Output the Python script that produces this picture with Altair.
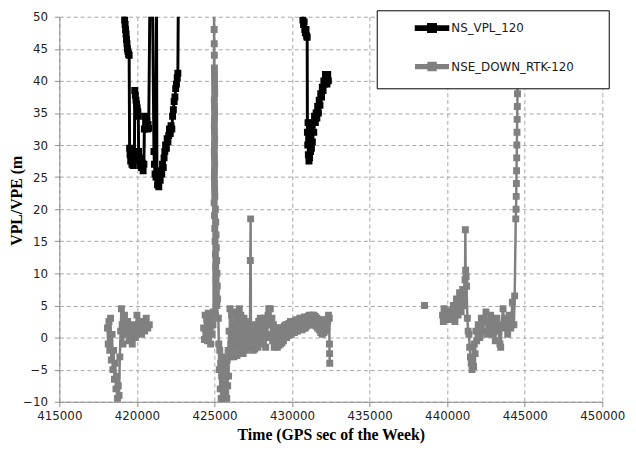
import altair as alt
import pandas as pd

SERIES = ["NS_VPL_120", "NSE_DOWN_RTK-120"]
X_TICKS = [415000, 420000, 425000, 430000, 435000, 440000, 445000, 450000]
Y_TICKS = [-10, -5, 0, 5, 10, 15, 20, 25, 30, 35, 40, 45, 50]

# NS_VPL_120, first pass (time, metres)
vpl_1 = [
    (419150, 53), (419180, 50.5), (419210, 49.5), (419240, 48.8), (419270, 48),
    (419300, 47.3), (419330, 46.5), (419360, 45.8), (419390, 45), (419420, 44.6),
    (419460, 44.2), (419500, 44), (419530, 29.5), (419560, 28.5), (419600, 27.5),
    (419640, 28.8), (419680, 27), (419720, 28), (419760, 26.8), (419800, 27.8),
    (419840, 28.5), (419860, 38.5), (419900, 37.8), (419940, 37), (419980, 36.4),
    (420020, 35.8), (420060, 35.2), (420090, 34.5), (420110, 29), (420150, 27.5),
    (420200, 26.8), (420250, 28), (420300, 26.5), (420350, 27.2), (420400, 26),
    (420450, 27), (420480, 32.5), (420520, 34.5), (420560, 33.5), (420600, 32.8),
    (420640, 33.8), (420680, 32.5), (420720, 33.2), (420760, 32.6), (420846, 55),
    (421000, 55), (421098, 29), (421130, 27), (421170, 25.5), (421230, 25),
    (421262, 55), (421290, 25), (421330, 23.8), (421370, 24.5), (421410, 23.5),
    (421450, 25), (421500, 24.5), (421550, 26), (421600, 25.5), (421650, 27),
    (421700, 26.5), (421750, 28), (421800, 29), (421850, 30), (421900, 29.5),
    (421950, 31), (422000, 30.5), (422050, 31.5), (422100, 32.5), (422150, 31.8),
    (422200, 33), (422250, 32.5), (422300, 34.5), (422350, 35.5), (422400, 36.8),
    (422450, 37.5), (422500, 38.8), (422550, 39.5), (422600, 40.5), (422640, 41.2),
    (422675, 55),
]

# NS_VPL_120, second pass
vpl_2 = [
    (430650, 53), (430700, 49.5), (430740, 48.8), (430780, 49.2), (430820, 48),
    (430860, 47.5), (430900, 48), (430940, 47), (430975, 46.8), (430990, 32),
    (431010, 30), (431030, 33.5), (431050, 28.5), (431070, 31), (431090, 27.5),
    (431110, 30.5), (431130, 28), (431160, 32), (431190, 29), (431220, 31.5),
    (431250, 29.5), (431280, 32.5), (431310, 30.5), (431350, 33.5), (431400, 32),
    (431450, 34.5), (431500, 33.5), (431550, 35), (431600, 34.2), (431650, 36),
    (431700, 35), (431750, 37), (431800, 36.2), (431850, 38), (431900, 37.5),
    (431950, 39), (432000, 38.5), (432050, 40), (432100, 39.5), (432150, 41),
    (432200, 40.5), (432250, 39.5), (432300, 41), (432340, 40),
]

# NSE_DOWN_RTK-120, first pass
nse_1 = [
    (418100, 1.5), (418150, -1), (418200, 2.5), (418250, -2), (418300, 3),
    (418350, -3.5), (418400, 0.5), (418450, -5), (418500, -2), (418550, -6.5),
    (418600, -4), (418650, -8), (418700, -6), (418750, -9.5), (418800, -7.5),
    (418850, -9), (418900, -3), (418950, 1), (419000, 4.5), (419050, 2),
    (419100, -1), (419200, 3.5), (419300, 0.5), (419400, 2.5), (419500, -0.5),
    (419600, 1.5), (419700, -1), (419800, 2), (419900, 0), (420000, 3.5),
    (420100, 1), (420200, 2.5), (420300, 0.5), (420400, 2.5), (420500, 1),
    (420600, 3), (420700, 1.5), (420800, 2),
]

# NSE_DOWN_RTK-120, second pass
nse_2 = [
    (424300, 1.5), (424350, -0.3), (424400, 3.5), (424450, 0.5), (424500, 2.8),
    (424550, -0.5), (424600, 3.8), (424650, 1), (424700, 2.5), (424750, -1),
    (424800, 3), (424850, 0.5), (424900, 2), (424940, 4), (424975, 53),
    (424980, 48), (424985, 45.8), (424990, 44), (424995, 42), (425000, 41),
    (425005, 40), (425010, 39), (425015, 38), (424990, 37), (425000, 36),
    (425010, 35), (425000, 34), (424990, 33), (425000, 32), (425010, 31),
    (425000, 30), (424990, 29), (425000, 28), (425010, 27), (425000, 26),
    (424990, 25), (425000, 24), (425010, 23), (425020, 22), (424980, 21),
    (425060, 20), (425000, 19), (425080, 18), (425020, 17), (425100, 16),
    (425040, 15), (425120, 14), (425060, 13), (425140, 12), (425080, 11),
    (425160, 10), (425100, 9), (425180, 8), (425120, 7), (425200, 6),
    (425150, 5), (425250, 3), (425280, -1), (425310, -5), (425340, -2),
    (425370, -8), (425400, -4), (425430, -9.5), (425460, -6), (425490, -9.8),
    (425520, -3), (425550, -8), (425580, -5), (425610, -9.5), (425640, -7),
    (425670, -9), (425700, -4), (425730, -8.5), (425760, -6), (425790, -9.5),
    (425820, -3.5), (425850, -7.5), (425880, -2), (425910, -6), (425940, 1),
    (425970, -3), (426000, 4.5), (426050, -1), (426100, 3.5), (426150, -2.5),
    (426200, 2), (426250, -3), (426300, 4), (426350, -1.5), (426400, 3),
    (426450, -2.8), (426500, 2.5), (426550, -1), (426600, 4.5), (426650, -2),
    (426700, 3.5), (426750, -1.5), (426800, 2), (426850, -2.5), (426900, 3),
    (426950, -1.5), (427000, 2.5), (427050, -2), (427100, 1.5), (427150, -1.5),
    (427200, 2), (427250, -1), (427290, 1.5), (427310, 12), (427330, 18.5),
    (427350, 2), (427400, -1.5), (427450, 1.5), (427500, -2), (427550, 1),
    (427600, -1.8), (427650, 1.5), (427700, -1), (427750, 2), (427800, -1.5),
    (427850, 2.5), (427900, -0.5), (427950, 3), (428000, 0), (428050, 2.5),
    (428100, -1), (428150, 3), (428200, 0.5), (428250, 2), (428300, -1.5),
    (428350, 2.5), (428400, 0), (428450, 3.5), (428500, 4.5), (428550, 2),
    (428600, 4.5), (428650, 0.5), (428700, 3), (428750, -0.5), (428800, 2),
    (428850, -1.5), (428900, 1.5), (428950, -1), (429000, 1.5), (429050, -1.5),
    (429100, 1), (429150, -1.2), (429200, 1.5), (429250, -1), (429300, 1.2),
    (429350, -0.8), (429400, 1.5), (429450, -0.5), (429500, 1.8), (429550, 0),
    (429600, 2), (429650, 0), (429700, 2), (429750, 0.3), (429800, 2.2),
    (429850, 0.5), (429900, 2.5), (429950, 0.5), (430000, 2.3), (430050, 0.8),
    (430100, 2.5), (430150, 0.8), (430200, 2.6), (430250, 1), (430300, 2.8),
    (430350, 1), (430400, 2.5), (430450, 1.2), (430500, 3), (430550, 1.5),
    (430600, 2.8), (430650, 1.2), (430700, 3), (430750, 1.5), (430800, 3.2),
    (430850, 1.5), (430900, 3), (430950, 1.8), (431000, 3.2), (431050, 2),
    (431100, 3.5), (431150, 2), (431200, 3.2), (431250, 2), (431300, 3.5),
    (431350, 2.2), (431400, 3.5), (431450, 2), (431500, 3.3), (431550, 1.8),
    (431600, 3), (431650, 1.5), (431700, 2.8), (431750, 1.2), (431800, 2.5),
    (431850, 0.8), (431900, 2.8), (431950, 0.5), (432000, 2.5), (432050, 0.8),
    (432100, 2.2), (432150, 1), (432200, 2.8), (432250, 1.5), (432300, 2.5),
    (432350, 3.5), (432400, 3), (432410, -1), (432420, -2.5), (432430, -4),
]

# NSE_DOWN_RTK-120, lone sample
nse_3 = [(438540, 5)]

# NSE_DOWN_RTK-120, third pass
nse_4 = [
    (439700, 3.5), (439750, 2.5), (439800, 4.5), (439900, 3), (440000, 4),
    (440100, 2.8), (440200, 4.2), (440300, 3), (440400, 5), (440500, 2.5),
    (440600, 6), (440700, 3.5), (440800, 7), (440900, 4), (441000, 7.5),
    (441100, 5), (441150, 9), (441170, 16.8), (441190, 10.5), (441220, 9.5),
    (441250, 8), (441300, 3), (441350, 1), (441400, 0.5), (441450, -1.5),
    (441500, -3), (441550, -4), (441600, -5), (441650, -3.5), (441700, -4.5),
    (441750, -1), (441800, -2.5), (441850, 1), (441900, -0.5), (442000, 2),
    (442100, 0), (442200, 3), (442300, 1), (442400, 2.5), (442500, 4),
    (442550, 0.5), (442600, 2.5), (442700, 1), (442800, 3.5), (442900, 0.5),
    (443000, 2.5), (443100, -0.5), (443200, 3), (443300, 1), (443400, -1),
    (443450, -1.5), (443500, 2), (443600, 4.5), (443700, 1.5), (443800, 3),
    (443900, 0.5), (444000, 3.5), (444100, 1.5), (444200, 5.5), (444300, 2),
    (444350, 6.5), (444420, 18.5), (444440, 20), (444450, 22), (444460, 24),
    (444470, 26), (444480, 28), (444490, 30), (444500, 32), (444510, 34),
    (444520, 36), (444530, 38), (444540, 40), (444550, 42), (444560, 44),
]

SEGMENTS = [
    (SERIES[0], "vpl_1", vpl_1),
    (SERIES[0], "vpl_2", vpl_2),
    (SERIES[1], "nse_1", nse_1),
    (SERIES[1], "nse_2", nse_2),
    (SERIES[1], "nse_3", nse_3),
    (SERIES[1], "nse_4", nse_4),
]

rows = []
for series, seg, pts in SEGMENTS:
    for i, (t, v) in enumerate(pts):
        rows.append({"series": series, "seg": seg, "i": i, "t": t, "v": v})
df = pd.DataFrame(rows)

color_scale = alt.Scale(domain=SERIES, range=["#000000", "#808080"])

# legend glyph: a short line with a square marker (filled shapes only)
LEG_PATH = ("M-1,-0.09L1,-0.09L1,0.09L-1,0.09Z"
            "M-0.22,-0.22L0.22,-0.22L0.22,0.22L-0.22,0.22Z")

legend = alt.Legend(
    title=None, orient="none", legendX=360, legendY=-6, zindex=1,
    symbolType=LEG_PATH, symbolSize=1024, symbolStrokeWidth=0,
    symbolOpacity=1,
    labelFont="DejaVu Sans", labelFontSize=12, labelColor="#1a1a1a",
    labelOffset=2, rowPadding=11, padding=0, labelLimit=300,
)

x_enc = alt.X(
    "t:Q",
    scale=alt.Scale(domain=[415000, 450000], nice=False, zero=False),
    axis=alt.Axis(values=X_TICKS, format="d", title="Time (GPS sec of the Week)",
                  labelPadding=4, titlePadding=5, labelFlush=False, labelOverlap=False),
)
y_enc = alt.Y(
    "v:Q",
    scale=alt.Scale(domain=[-10, 50], nice=False, zero=False),
    axis=alt.Axis(values=Y_TICKS, title="VPL/VPE (m", labelPadding=7, labelOverlap=False,
                  titleX=-35, titleY=186, titleAngle=270, titleAlign="center",
                  titleBaseline="bottom"),
)
color_enc = alt.Color("series:N", scale=color_scale, legend=legend)

points = alt.Chart(df).mark_point(shape="square", filled=True, size=49, opacity=1, clip=True).encode(
    x=x_enc,
    y=y_enc,
    color=color_enc,
)

lines = alt.Chart(df).mark_line(clip=True).encode(
    x=x_enc,
    y=y_enc,
    color=color_enc,
    strokeWidth=alt.StrokeWidth("series:N", scale=alt.Scale(domain=SERIES, range=[3, 2.5]), legend=None),
    detail="seg:N",
    order="i:Q",
)

box = alt.Chart(pd.DataFrame({"k": [0]})).mark_rect(fill="white", stroke="black", strokeWidth=1).encode(
    x=alt.value(322), x2=alt.value(557), y=alt.value(-6), y2=alt.value(73)
)

chart = alt.layer(points, lines, box).properties(
    width=550, height=390, autosize="none",
    padding={"left": 52, "top": 6, "right": 26, "bottom": 43},
).configure_view(stroke=None).configure_axis(
    labelFont="DejaVu Sans", labelFontSize=12, labelColor="#222222",
    titleFont="Liberation Serif", titleFontSize=16, titleFontWeight="bold", titleColor="#000000",
    domainColor="#8c8c8c", tickColor="#8c8c8c", tickSize=5, labelOverlap=False,
    gridColor="#a6a6a6", gridDash=[4, 3], gridWidth=1,
)

chart.save("out.html", embed_options={"renderer": "svg", "actions": False})
